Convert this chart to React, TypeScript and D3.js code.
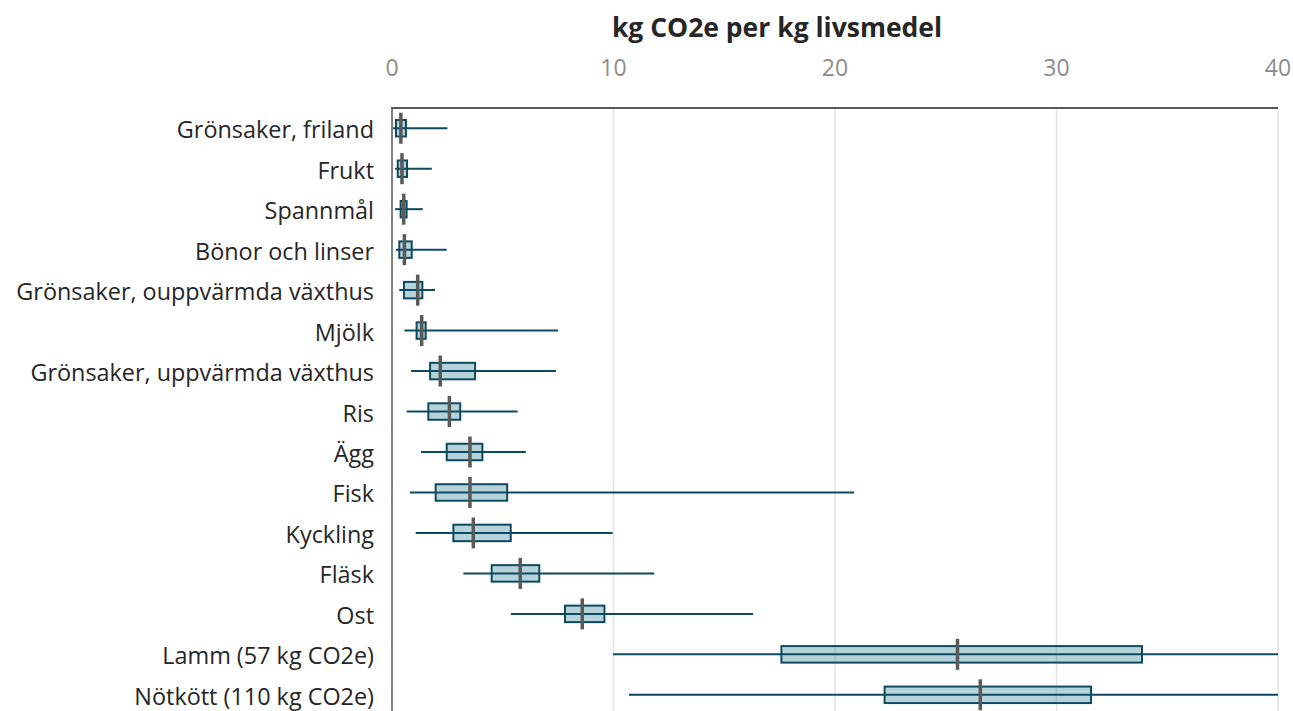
import React from "react";
import * as d3 from "d3";

const categories = [
  "Grönsaker, friland",
  "Frukt",
  "Spannmål",
  "Bönor och linser",
  "Grönsaker, ouppvärmda växthus",
  "Mjölk",
  "Grönsaker, uppvärmda växthus",
  "Ris",
  "Ägg",
  "Fisk",
  "Kyckling",
  "Fläsk",
  "Ost",
  "Lamm (57 kg CO2e)",
  "Nötkött (110 kg CO2e)",
];
const minValues = [0.05, 0.14, 0.14, 0.18, 0.33, 0.56, 0.86, 0.66, 1.31, 0.81, 1.07, 3.22, 5.37, 9.98, 10.7];
const q1Values = [0.18, 0.26, 0.39, 0.33, 0.54, 1.11, 1.72, 1.64, 2.47, 1.97, 2.77, 4.5, 7.81, 17.58, 22.24];
const medianValues = [0.4, 0.45, 0.53, 0.56, 1.16, 1.34, 2.18, 2.59, 3.52, 3.52, 3.67, 5.79, 8.59, 25.53, 26.56];
const q3Values = [0.63, 0.68, 0.66, 0.89, 1.37, 1.52, 3.75, 3.08, 4.08, 5.2, 5.36, 6.65, 9.59, 33.86, 31.56];
const maxValues = [2.5, 1.8, 1.39, 2.47, 1.94, 7.5, 7.4, 5.67, 6.04, 20.86, 9.96, 11.84, 16.3, 57, 110];
const xTicks = [0, 10, 20, 30, 40];
const title = "kg CO2e per kg livsmedel";

const W = 1293;
const H = 711;
const left = 392;
const right = 1278;
const top = 108;
const rowH = 40.47;

export default function App() {
  const x = d3.scaleLinear().domain([0, 40]).range([left, right]);
  const y = d3
    .scaleBand<string>()
    .domain(categories)
    .range([top, top + rowH * categories.length])
    .paddingInner(0)
    .paddingOuter(0);
  const cx = (v: number) => x(Math.min(v, 40));
  const boxH = 16.5;
  const medH = 31;
  const font = "'Open Sans', sans-serif";

  return (
    <svg
      width={W}
      height={H}
      style={{ position: "absolute", left: 0, top: 0, background: "#fff" }}
    >
      {/* gridlines */}
      {xTicks.slice(1).map((t) => (
        <line key={"g" + t} x1={x(t)} x2={x(t)} y1={top} y2={H + 10} stroke="#e2e2e2" strokeWidth={1.5} />
      ))}
      {/* title */}
      <text x={777} y={27} textAnchor="middle" dominantBaseline="central" fontFamily={font} fontWeight={700} fontSize={26.5} fill="#262626">
        {title}
      </text>
      {/* tick labels */}
      {xTicks.map((t) => (
        <text key={"t" + t} x={x(t)} y={67} textAnchor="middle" dominantBaseline="central" fontFamily={font} fontSize={23} fill="#8c8c8c">
          {t}
        </text>
      ))}
      {/* category labels */}
      {categories.map((c) => (
        <text key={"c" + c} x={374} y={(y(c) as number) + y.bandwidth() / 2 + 1} textAnchor="end" dominantBaseline="central" fontFamily={font} fontSize={23.4} fill="#262626">
          {c}
        </text>
      ))}
      {/* boxes */}
      {categories.map((c, i) => {
        const yc = (y(c) as number) + y.bandwidth() / 2;
        return (
          <g key={"b" + c}>
            <rect
              x={cx(q1Values[i])}
              y={yc - boxH / 2}
              width={cx(q3Values[i]) - cx(q1Values[i])}
              height={boxH}
              fill="#4f97aa"
              fillOpacity={0.42}
              stroke="#0d4a5f"
              strokeWidth={2}
            />
            <line x1={cx(minValues[i])} x2={cx(maxValues[i])} y1={yc} y2={yc} stroke="#0d4a5f" strokeWidth={2} />
            <line x1={cx(medianValues[i])} x2={cx(medianValues[i])} y1={yc - medH / 2} y2={yc + medH / 2} stroke="#595959" strokeWidth={3.5} />
          </g>
        );
      })}
      {/* axes lines */}
      <line x1={left} x2={left} y1={top} y2={H + 10} stroke="#7f7f7f" strokeWidth={2} />
      <line x1={left - 1} x2={right} y1={top} y2={top} stroke="#595959" strokeWidth={2} />
    </svg>
  );
}
